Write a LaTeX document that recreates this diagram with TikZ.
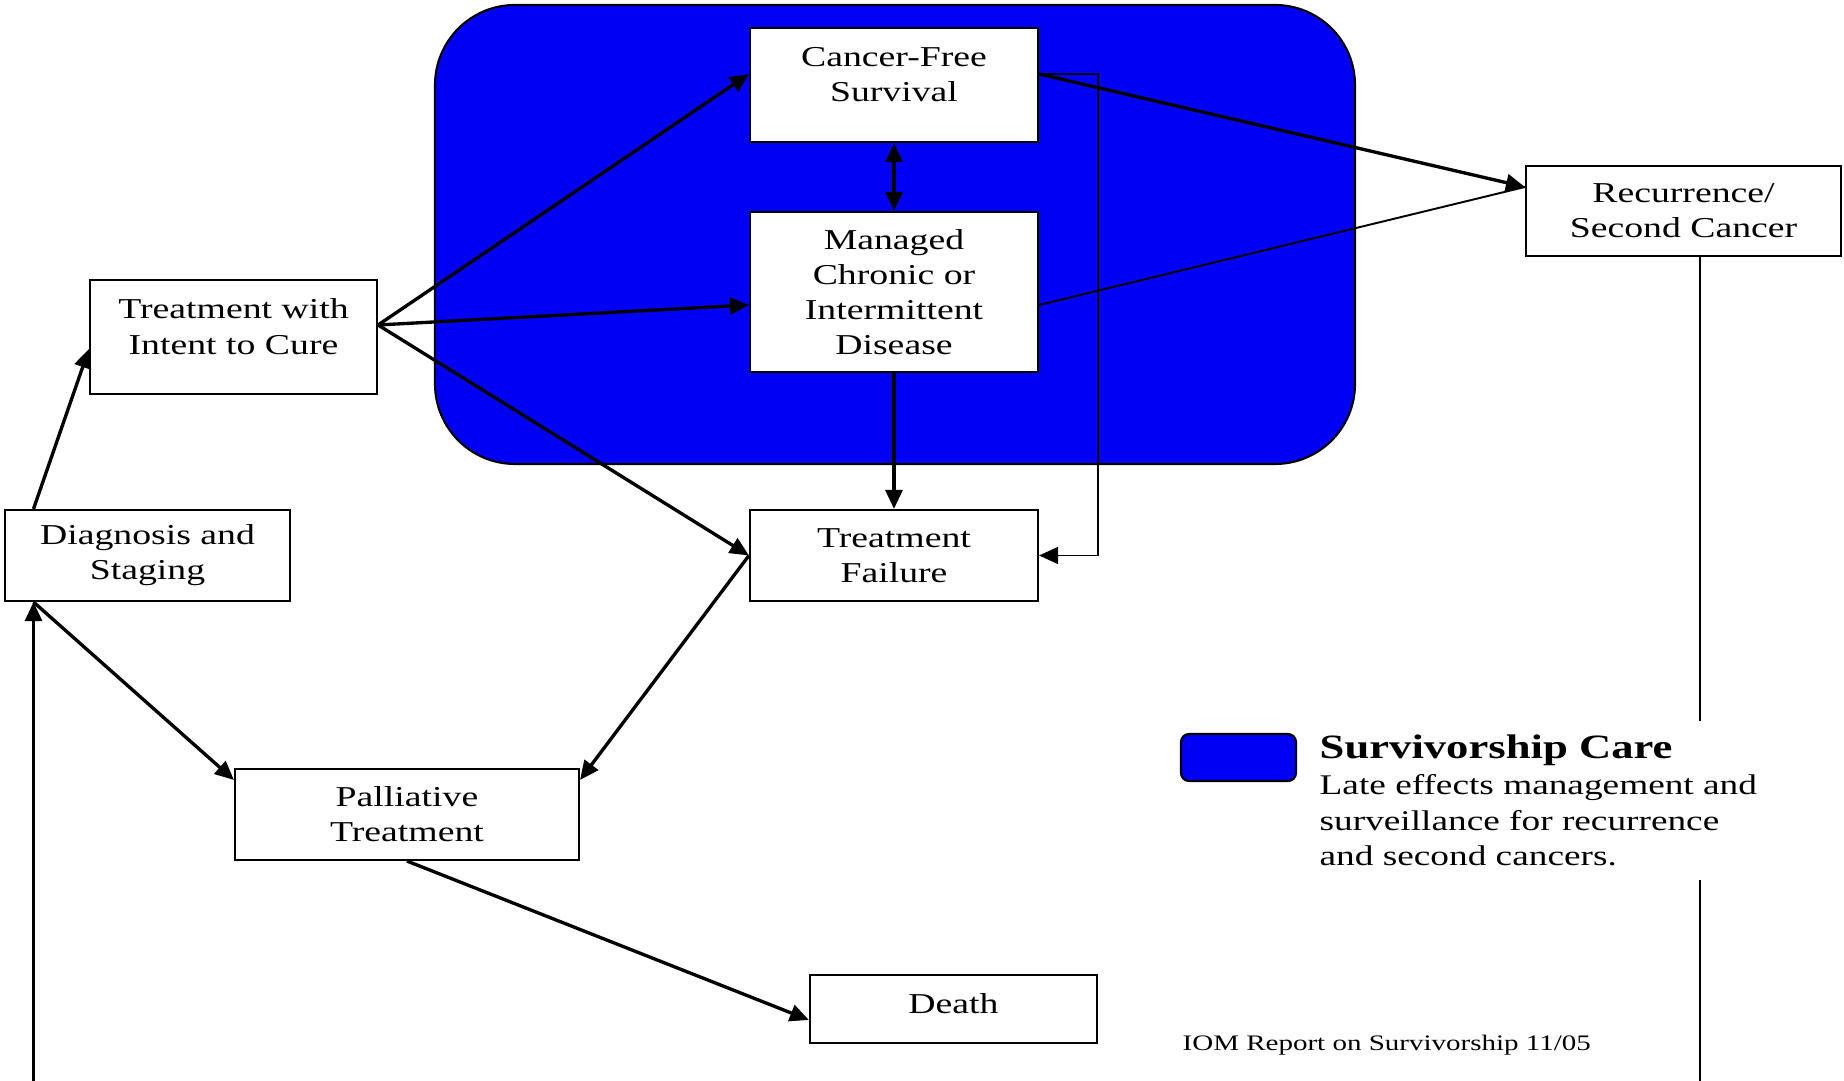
\documentclass[tikz,border=0pt]{standalone}
\usepackage{fontspec}
\setmainfont{Liberation Serif}[FakeStretch=1.31]
\usetikzlibrary{arrows.meta}

\definecolor{survblue}{RGB}{0,0,245}

\begin{document}
\begin{tikzpicture}[line width=0.95pt,>={Triangle[length=5.4pt,width=4.8pt]},
  box/.style={draw,fill=white,line width=0.6pt,align=center,inner sep=0pt,
    minimum width=2.88cm,font=\fontsize{8.2}{10}\selectfont},
  thin/.style={line width=0.55pt}]
  \useasboundingbox (0,0) rectangle (18.44,-10.81);
  % survivorship care area
  \draw[fill=survblue,line width=0.6pt,rounded corners=0.8cm] (4.35,-0.05) rectangle (13.55,-4.64);
  % stages
  \node[box,minimum height=1.14cm] (cfs) at (8.94,-0.85) {Cancer-Free\\Survival\\[-4pt]\mbox{}};
  \node[box,minimum height=1.60cm] (mcd) at (8.94,-2.92) {Managed\\Chronic or\\Intermittent\\Disease};
  \node[box,minimum width=2.87cm,minimum height=1.14cm] (twi) at (2.335,-3.37) {Treatment with\\Intent to Cure\\[-4pt]\mbox{}};
  \node[box,minimum width=2.85cm,minimum height=0.91cm] (dxs) at (1.475,-5.555) {Diagnosis and\\Staging};
  \node[box,minimum height=0.91cm] (tf) at (8.94,-5.555) {Treatment\\Failure};
  \node[box,minimum width=3.15cm,minimum height=0.90cm] (rec) at (16.835,-2.11) {Recurrence/\\Second Cancer};
  \node[box,minimum width=3.44cm,minimum height=0.91cm] (pal) at (4.07,-8.145) {Palliative\\Treatment};
  \node[box,minimum width=2.87cm,minimum height=0.68cm] (death) at (9.535,-10.09) {Death\\[-7pt]\mbox{}};
  % loose ends at the bottom edge
  \coordinate (botL) at (0.335,-10.81);
  \coordinate (botR) at (17.0,-10.81);
  \coordinate (tw) at ([yshift=0.12cm]twi.east);
  % connectors
  \draw[->] (botL) -- (dxs.south -| botL);
  \draw[->] (dxs.north -| botL) -- ([yshift=-0.12cm]twi.west);
  \draw[->] (tw) -- ([yshift=0.11cm]cfs.west);
  \draw[->] (tw) -- ([yshift=-0.13cm]mcd.west);
  \draw[->] (tw) -- (tf.west);
  \draw[<->] (cfs) -- (mcd);
  \draw[->] (mcd) -- (tf);
  \draw[->] ([yshift=0.11cm]cfs.east) -- ([yshift=0.24cm]rec.west);
  \draw[thin] ([yshift=-0.13cm]mcd.east) -- ([yshift=0.24cm]rec.west);
  \draw[->,thin] ([yshift=0.11cm]cfs.east) -- ++(0.59,0) |- (tf.east);
  \draw[->] (dxs.south -| botL) -- ([yshift=-0.12cm]pal.north west);
  \draw[->] (tf.west) -- ([yshift=-0.12cm]pal.north east);
  \draw[->] (pal.south) -- ([yshift=-0.11cm]death.west);
  \draw[line width=0.6pt] (rec.south -| botR) -- (botR);
  % legend
  \draw[fill=survblue,line width=0.6pt,rounded corners=0.08cm] (11.81,-7.34) rectangle (12.96,-7.81);
  \node[anchor=north west,fill=white,align=left,inner xsep=0.05cm,inner ysep=0.14cm,
    font=\fontsize{8.1}{10.2}\selectfont] (key) at (13.13,-7.19)
    {{\fontsize{9.7}{10}\selectfont\bfseries Survivorship Care}\\Late effects management and\\surveillance for recurrence\\and second cancers.};
  \node[anchor=base west,inner sep=0pt,font=\fontsize{6.3}{8}\selectfont] (iom) at (11.81,-10.51) {IOM Report on Survivorship 11/05};
\end{tikzpicture}
\end{document}
